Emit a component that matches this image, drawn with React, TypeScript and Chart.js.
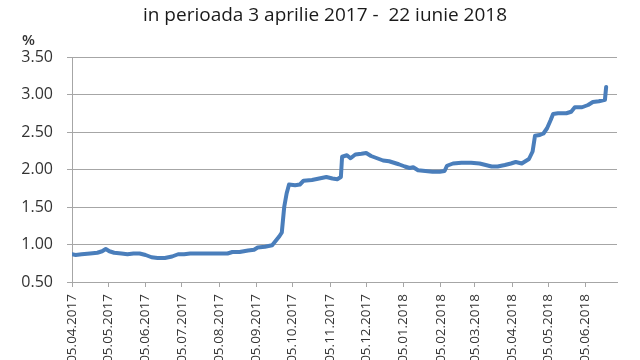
import React, { useEffect, useRef } from "react";
import { Chart, registerables } from "chart.js";

Chart.register(...registerables);

const titleText = "in perioada 3 aprilie 2017 -  22 iunie 2018";
const yUnit = "%";

const tickLabels = [
  "05.04.2017", "05.05.2017", "05.06.2017", "05.07.2017", "05.08.2017",
  "05.09.2017", "05.10.2017", "05.11.2017", "05.12.2017", "05.01.2018",
  "05.02.2018", "05.03.2018", "05.04.2018", "05.05.2018", "05.06.2018",
];

const axisStart = "2017-04-05";
const axisEnd = "2018-07-01";

const dates = [
  "2017-04-05", "2017-04-08", "2017-04-13", "2017-04-20", "2017-04-26", "2017-04-30",
  "2017-05-03", "2017-05-06", "2017-05-10", "2017-05-16", "2017-05-21", "2017-05-26",
  "2017-05-31", "2017-06-05", "2017-06-10", "2017-06-15", "2017-06-21", "2017-06-27",
  "2017-07-02", "2017-07-07", "2017-07-12", "2017-07-20", "2017-08-01", "2017-08-12",
  "2017-08-16", "2017-08-22", "2017-08-29", "2017-09-03", "2017-09-06", "2017-09-12",
  "2017-09-18", "2017-09-21", "2017-09-24", "2017-09-26", "2017-09-28", "2017-09-30",
  "2017-10-02", "2017-10-07", "2017-10-11", "2017-10-14", "2017-10-21", "2017-10-27",
  "2017-11-02", "2017-11-07", "2017-11-11", "2017-11-14", "2017-11-15", "2017-11-19",
  "2017-11-22", "2017-11-26", "2017-12-01", "2017-12-05", "2017-12-09", "2017-12-14",
  "2017-12-19", "2017-12-24", "2017-12-28", "2018-01-01", "2018-01-06", "2018-01-10",
  "2018-01-13", "2018-01-17", "2018-01-23", "2018-01-29", "2018-02-04", "2018-02-08",
  "2018-02-10", "2018-02-15", "2018-02-22", "2018-03-02", "2018-03-09", "2018-03-14",
  "2018-03-19", "2018-03-24", "2018-03-30", "2018-04-04", "2018-04-08", "2018-04-13",
  "2018-04-16", "2018-04-19", "2018-04-22", "2018-04-24", "2018-04-28", "2018-05-01",
  "2018-05-04", "2018-05-07", "2018-05-09", "2018-05-13", "2018-05-20", "2018-05-24",
  "2018-05-27", "2018-06-02", "2018-06-07", "2018-06-11", "2018-06-16", "2018-06-21",
  "2018-06-22",
];

const values = [
  0.87, 0.86, 0.87, 0.88, 0.89, 0.91,
  0.94, 0.91, 0.89, 0.88, 0.87, 0.88,
  0.88, 0.86, 0.83, 0.82, 0.82, 0.84,
  0.87, 0.87, 0.88, 0.88, 0.88, 0.88,
  0.90, 0.90, 0.92, 0.93, 0.96, 0.97,
  0.99, 1.05, 1.11, 1.16, 1.50, 1.68,
  1.80, 1.79, 1.80, 1.85, 1.86, 1.88,
  1.90, 1.88, 1.87, 1.90, 2.17, 2.19,
  2.15, 2.20, 2.21, 2.22, 2.18, 2.15,
  2.12, 2.11, 2.09, 2.07, 2.04, 2.02,
  2.03, 1.99, 1.98, 1.97, 1.97, 1.98,
  2.05, 2.08, 2.09, 2.09, 2.08, 2.06,
  2.04, 2.04, 2.06, 2.08, 2.10, 2.08,
  2.11, 2.14, 2.24, 2.45, 2.46, 2.48,
  2.55, 2.66, 2.74, 2.75, 2.75, 2.77,
  2.83, 2.83, 2.86, 2.90, 2.91, 2.93,
  3.10,
];

const dayOfIso = (s: string) => {
  const [y, m, d] = s.split("-").map(Number);
  return Date.UTC(y, m - 1, d) / 86400000;
};
const dayOfLabel = (s: string) => {
  const [d, m, y] = s.split(".").map(Number);
  return Date.UTC(y, m - 1, d) / 86400000;
};

const FONT = "'Open Sans', 'DejaVu Sans', sans-serif";
const TEXT = "#333333";
const GRID = "#a6a6a6";

export default function App() {
  const ref = useRef<HTMLCanvasElement | null>(null);

  useEffect(() => {
    if (!ref.current) return;
    const base = dayOfIso(axisStart);
    const tickDays = tickLabels.map((l) => dayOfLabel(l) - base);
    const points = dates.map((d, i) => ({ x: dayOfIso(d) - base, y: values[i] }));

    const textPlugin = {
      id: "texts",
      afterDraw(chart: any) {
        const ctx = chart.ctx;
        ctx.save();
        ctx.fillStyle = "#1a1a1a";
        ctx.textBaseline = "alphabetic";
        ctx.textAlign = "center";
        ctx.font = `19px ${FONT}`;
        ctx.fillText(titleText, 325, 21);
        ctx.textAlign = "left";
        ctx.font = `600 15px ${FONT}`;
        ctx.fillStyle = TEXT;
        ctx.fillText(yUnit, 22, 45);
        ctx.restore();
      },
    };

    const chart = new Chart(ref.current, {
      type: "line",
      data: {
        datasets: [
          {
            data: points,
            borderColor: "#4A7EBB",
            borderWidth: 4,
            pointRadius: 0,
            tension: 0,
            borderJoinStyle: "round",
            borderCapStyle: "round",
            fill: false,
          },
        ],
      },
      options: {
        responsive: false,
        animation: false,
        layout: { padding: { top: 57, right: 23, left: 0, bottom: 0 } },
        plugins: {
          legend: { display: false },
          tooltip: { enabled: false },
          title: { display: false },
        },
        scales: {
          x: {
            type: "linear",
            min: 0,
            max: dayOfIso(axisEnd) - base,
            afterBuildTicks: (s: any) => {
              s.ticks = tickDays.map((v) => ({ value: v }));
            },
            afterFit: (s: any) => {
              s.height = 78;
            },
            ticks: {
              autoSkip: false,
              minRotation: 90,
              maxRotation: 90,
              padding: 7,
              color: TEXT,
              font: { family: FONT, size: 13.5 },
              callback: (v: any) => {
                const idx = tickDays.indexOf(Number(v));
                return idx >= 0 ? tickLabels[idx] : "";
              },
            },
            grid: { drawOnChartArea: false, drawTicks: true, tickLength: 5, color: GRID },
            border: { color: GRID },
          },
          y: {
            min: 0.5,
            max: 3.5,
            afterFit: (s: any) => {
              s.width = 72;
            },
            ticks: {
              stepSize: 0.5,
              padding: 14,
              color: TEXT,
              font: { family: FONT, size: 16 },
              callback: (v: any) => Number(v).toFixed(2),
            },
            grid: { color: GRID, tickLength: 5 },
            border: { color: GRID },
          },
        },
      },
      plugins: [textPlugin],
    } as any);
    return () => chart.destroy();
  }, []);

  return (
    <div style={{ position: "fixed", left: 0, top: 0, width: 640, height: 360, background: "#fff" }}>
      <canvas ref={ref} width={640} height={360} />
    </div>
  );
}
